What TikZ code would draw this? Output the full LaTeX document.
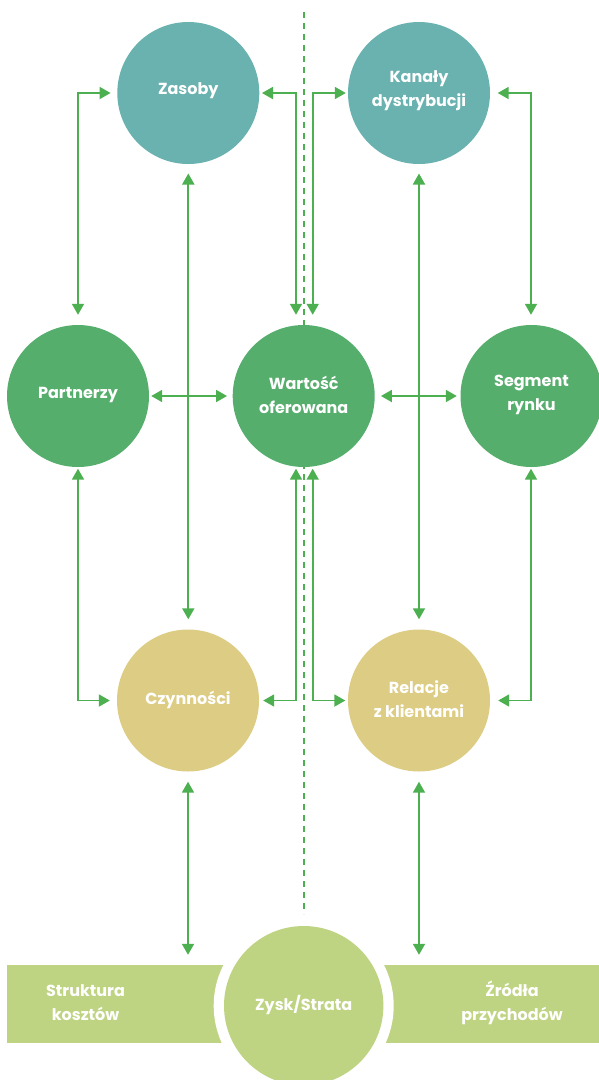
\documentclass[tikz,border=0pt]{standalone}
\usepackage{fontspec}
\setmainfont{Poppins}
\usetikzlibrary{arrows.meta,calc}
\definecolor{cTeal}{HTML}{69B2B0}
\definecolor{cGreen}{HTML}{56AE6D}
\definecolor{cKhaki}{HTML}{DDCC83}
\definecolor{cLime}{HTML}{BFD482}
\definecolor{cArrow}{HTML}{4CAF50}
\begin{document}
\begin{tikzpicture}[x=1pt,y=-1pt,
  bubble/.style={circle,minimum size=142pt,inner sep=0pt,draw=none},
  txt/.style={text=white,font=\bfseries\fontsize{16}{24}\selectfont,align=center,inner sep=0pt},
  bar/.style={fill=cLime,draw=none,inner sep=0pt},
  link/.style={draw=cArrow,line width=1.8pt,
    {Triangle[length=11pt,width=12pt]}-{Triangle[length=11pt,width=12pt]}},
  divider/.style={draw=cArrow,line width=1.8pt,dash pattern=on 6pt off 5pt}]
\useasboundingbox (0,0) rectangle (598,1080);

% central dashed divider
\coordinate (dtop) at (304,12);
\coordinate (dbot) at (304,914);
\draw[divider] (dtop) -- (dbot);

% circles
\node[bubble,fill=cTeal]  (zas) at (188.3,93) {};
\node[bubble,fill=cTeal]  (kan) at (419,93) {};
\node[bubble,fill=cGreen] (par) at (78,396) {};
\node[bubble,fill=cGreen] (war) at (303.7,396) {};
\node[bubble,fill=cGreen] (seg) at (531.5,396) {};
\node[bubble,fill=cKhaki] (czy) at (188,700.5) {};
\node[bubble,fill=cKhaki] (rel) at (419,700.5) {};

\node[txt] (zas-t) at ([yshift=2pt]zas.center) {Zasoby};
\node[txt] (kan-t) at ([yshift=2pt]kan.center) {Kanały\\dystrybucji};
\node[txt] (par-t) at ([yshift=1pt]par.center) {Partnerzy};
\node[txt] (war-t) at ([yshift=1pt]war.center) {Wartość\\oferowana};
\node[txt] (seg-t) at ([yshift=1pt]seg.center) {Segment\\rynku};
\node[txt] (czy-t) at ([yshift=1pt]czy.center) {Czynności};
\node[txt] (rel-t) at ([yshift=1pt]rel.center) {Relacje\\z klientami};

% bottom bars and profit circle
\node[bar,minimum width=232.7pt,minimum height=78.3pt] (cost) at (123.65,1004.15) {};
\node[bar,minimum width=230pt,minimum height=78.3pt] (rev) at (499,1004.15) {};
\fill[white] (303.7,1005.7) circle (90);
\node[circle,fill=cLime,minimum size=159.4pt,inner sep=0pt] (zys) at (303.7,1005.7) {};
\node[txt] (zys-t) at ([yshift=1pt]zys.center) {Zysk/Strata};
\node[txt] (cost-t) at (85.5,1003) {Struktura\\kosztów};
\node[txt] (rev-t) at (512,1003) {Źródła\\przychodów};

% connectors, top row
\draw[link] ($(zas.west)+(-6.5,0)$) -| ($(par.north)+(0,-10)$);
\draw[link] ($(zas.east)+(2.5,0)$) -| ($(war.north)+(-7.7,-10)$);
\draw[link] ($(kan.west)+(-2,0)$) -| ($(war.north)+(9,-10)$);
\draw[link] ($(kan.east)+(7.5,0)$) -| ($(seg.north)+(-0.5,-10)$);
\draw[link] ($(zas.south)+(0,9.3)$) -- ($(czy.north)+(0.3,-10)$);
\draw[link] ($(kan.south)+(0,9.3)$) -- ($(rel.north)+(0,-10)$);

% connectors, middle row
\draw[link] ($(par.east)+(2,0)$) -- ($(war.west)+(-5.5,0)$);
\draw[link] ($(war.east)+(6,0)$) -- ($(seg.west)+(-3.5,0)$);
\draw[link] ($(par.south)+(0,1.5)$) |- ($(czy.west)+(-7,0)$);
\draw[link] ($(war.south)+(-7.7,1.5)$) |- ($(czy.east)+(4,0)$);
\draw[link] ($(war.south)+(9,1.5)$) |- ($(rel.west)+(-2.5,0)$);
\draw[link] ($(seg.south)+(-0.5,1.5)$) |- ($(rel.east)+(8,0)$);

% connectors, to the bottom bars
\draw[link] ($(czy.south)+(0,10)$) -- ($(cost.north -| czy.south)+(0,-10)$);
\draw[link] ($(rel.south)+(0,10)$) -- ($(rev.north -| rel.south)+(0,-10)$);
\end{tikzpicture}
\end{document}
